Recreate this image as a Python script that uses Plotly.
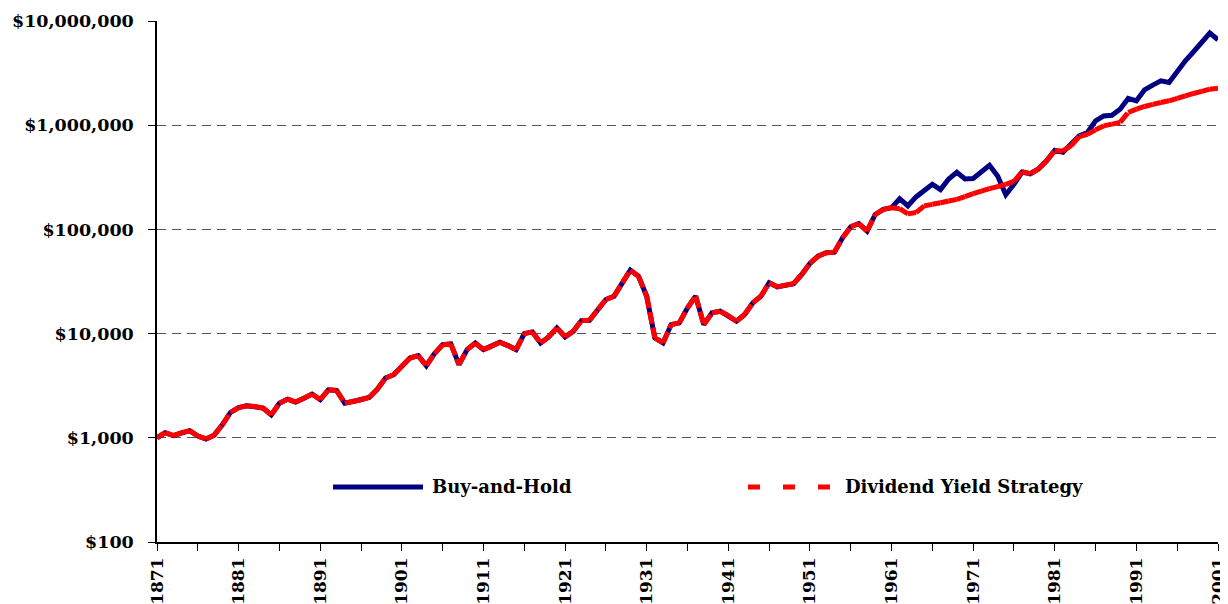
import plotly.graph_objects as go

years = list(range(1871, 2002))

buy_and_hold = [
    1000, 1120, 1050, 1120, 1170, 1040, 975, 1060, 1330, 1750,          # 1871-1880
    1950, 2030, 2000, 1930, 1660, 2150, 2350, 2200, 2400, 2630,         # 1881-1890
    2320, 2890, 2850, 2150, 2230, 2320, 2440, 2930, 3750, 4030,         # 1891-1900
    4850, 5830, 6140, 4920, 6430, 7830, 7960, 5040, 7020, 8130,         # 1901-1910
    7020, 7550, 8260, 7670, 7020, 10000, 10380, 8130, 9290, 11350,      # 1911-1920
    9290, 10520, 13330, 13430, 17010, 21220, 22850, 30720, 40620, 35540,  # 1921-1930
    22850, 9100, 8130, 12200, 12680, 17650, 22850, 12200, 15810, 16410,   # 1931-1940
    14900, 13130, 15240, 19720, 22850, 30720, 28100, 29170, 30090, 36900, # 1941-1950
    47100, 55300, 59700, 60500, 83000, 106000, 113500, 96400, 139000, 155600,  # 1951-1960
    161700, 197000, 168000, 205000, 238000, 271000, 241000, 305000, 353000, 305000,  # 1961-1970
    308000, 356000, 413000, 325000, 215000, 271000, 355000, 342000, 380000, 455000,  # 1971-1980
    575000, 550000, 671000, 789000, 851000, 1100000, 1228000, 1247000, 1425000, 1806000,  # 1981-1990
    1714000, 2187000, 2427000, 2670000, 2572000, 3328000, 4150000, 5067000, 6240000, 7670000,  # 1991-2000
    6610000,                                                            # 2001
]

dividend_yield_strategy = [
    1000, 1120, 1050, 1120, 1170, 1040, 975, 1060, 1330, 1750,
    1950, 2030, 2000, 1930, 1660, 2150, 2350, 2200, 2400, 2630,
    2320, 2890, 2850, 2150, 2230, 2320, 2440, 2930, 3750, 4030,
    4850, 5830, 6140, 4920, 6430, 7830, 7960, 5040, 7020, 8130,
    7020, 7550, 8260, 7670, 7020, 10000, 10380, 8130, 9290, 11350,
    9290, 10520, 13330, 13430, 17010, 21220, 22850, 30720, 40620, 35540,
    22850, 9100, 8130, 12200, 12680, 17650, 22850, 12200, 15810, 16410,
    14900, 13130, 15240, 19720, 22850, 30720, 28100, 29170, 30090, 36900,
    47100, 55300, 59700, 60500, 83000, 106000, 113500, 96400, 139000, 155600,
    161700, 158000, 141000, 145000, 168000, 174000, 180000, 187000, 194000, 206000,
    220000, 233000, 246000, 257000, 271000, 289000, 358000, 342000, 380000, 455000,
    570000, 566000, 635000, 778000, 818000, 902000, 985000, 1023000, 1063000, 1325000,
    1425000, 1513000, 1583000, 1652000, 1714000, 1806000, 1915000, 2017000, 2110000, 2217000,
    2268000,
]

y_tick_values = [100, 1000, 10000, 100000, 1000000, 10000000]
y_tick_labels = ["$100", "$1,000", "$10,000", "$100,000", "$1,000,000", "$10,000,000"]

x_tick_values = [1871, 1876, 1881, 1886, 1891, 1896, 1901, 1906, 1911, 1916, 1921, 1926,
                 1931, 1936, 1941, 1946, 1951, 1956, 1961, 1966, 1971, 1976, 1981, 1986,
                 1991, 1996, 2001]
x_tick_labels = ["1871", "", "1881", "", "1891", "", "1901", "", "1911", "", "1921", "",
                 "1931", "", "1941", "", "1951", "", "1961", "", "1971", "", "1981", "",
                 "1991", "", "2001"]

series_names = ["Buy-and-Hold", "Dividend Yield Strategy"]
NAVY = "#000080"
RED = "#FF0000"
FONT = "DejaVu Serif"

# red dashed line drawn segment by segment so the dash pattern restarts at each point
seg_x, seg_y = [], []
for i in range(len(years) - 1):
    seg_x += [years[i], years[i + 1], None]
    seg_y += [dividend_yield_strategy[i], dividend_yield_strategy[i + 1], None]

fig = go.Figure()
fig.add_trace(go.Scatter(
    x=years, y=buy_and_hold, mode="lines", name=series_names[0],
    line=dict(color=NAVY, width=5), showlegend=False,
))
fig.add_trace(go.Scatter(
    x=seg_x, y=seg_y, mode="lines", name=series_names[1], connectgaps=False,
    line=dict(color=RED, width=5, dash="12px,4px"), showlegend=False,
))

# legend drawn inside the plot area
leg_y = 0.1056
fig.add_shape(type="line", xref="paper", yref="paper", x0=0.1659, x1=0.2507, y0=leg_y, y1=leg_y,
              line=dict(color=NAVY, width=5))
fig.add_shape(type="line", xref="paper", yref="paper", x0=0.557, x1=0.6343, y0=leg_y, y1=leg_y,
              line=dict(color=RED, width=5, dash="12px,23px"))
fig.add_annotation(xref="paper", yref="paper", x=0.2573, y=leg_y, text=series_names[0],
                   showarrow=False, xanchor="left", yanchor="middle",
                   font=dict(family=FONT, size=18, color="black", weight="bold"))
fig.add_annotation(xref="paper", yref="paper", x=0.6466, y=leg_y, text=series_names[1],
                   showarrow=False, xanchor="left", yanchor="middle",
                   font=dict(family=FONT, size=18, color="black", weight="bold"))

# the page body has an 8px margin, so the figure is sized and margined to land
# its plot area where the reference has it
fig.update_layout(
    width=1220, height=596,
    margin=dict(l=149, r=10, t=13, b=62),
    paper_bgcolor="white", plot_bgcolor="white",
    showlegend=False,
    xaxis=dict(
        range=[1871, 2001], tickmode="array", tickvals=x_tick_values, ticktext=x_tick_labels,
        tickangle=-90, ticks="outside", ticklen=7, tickcolor="black", tickwidth=1.2,
        showline=True, linecolor="black", linewidth=1.5, showgrid=False, zeroline=False,
        automargin=False,
        tickfont=dict(family=FONT, size=17, color="black", weight="bold"),
    ),
    yaxis=dict(
        type="log", range=[2, 7], tickmode="array", tickvals=y_tick_values, ticktext=y_tick_labels,
        ticks="outside", ticklen=7, tickcolor="black", tickwidth=1.2,
        showline=True, linecolor="black", linewidth=1.5, zeroline=False,
        showgrid=True, gridcolor="#555555", gridwidth=1.4, griddash="9px,6px",
        ticklabelstandoff=11, automargin=False,
        tickfont=dict(family=FONT, size=17.5, color="black", weight="bold"),
    ),
)

fig.write_html("out.html")
